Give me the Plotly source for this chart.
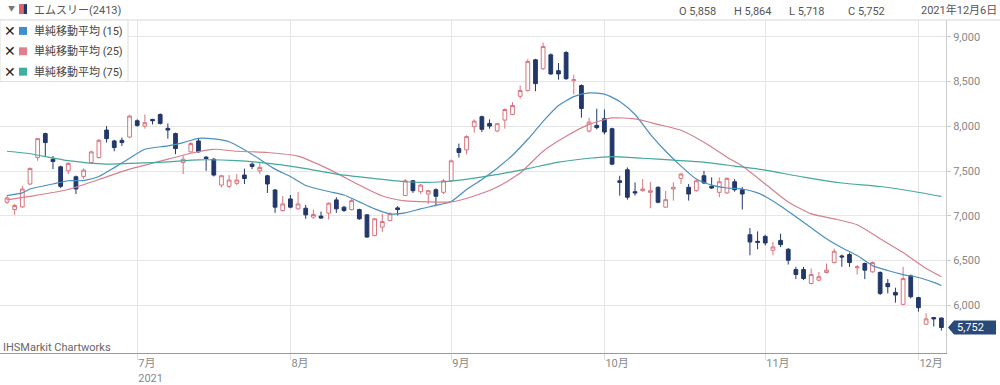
import plotly.graph_objects as go

# ---------------- data ----------------
months = {
    "06": [8, 9, 10, 11, 14, 15, 16, 17, 18, 21, 22, 23, 24, 25, 28, 29, 30],
    "07": [1, 2, 5, 6, 7, 8, 9, 12, 13, 14, 15, 16, 19, 20, 21, 26, 27, 28, 29, 30],
    "08": [2, 3, 4, 5, 6, 10, 11, 12, 13, 16, 17, 18, 19, 20, 23, 24, 25, 26, 27, 30, 31],
    "09": [1, 2, 3, 6, 7, 8, 9, 10, 13, 14, 15, 16, 17, 21, 22, 24, 27, 28, 29, 30],
    "10": [1, 4, 5, 6, 7, 8, 11, 12, 13, 14, 15, 18, 19, 20, 21, 22, 25, 26, 27, 28, 29],
    "11": [1, 2, 4, 5, 8, 9, 10, 11, 12, 15, 16, 17, 18, 19, 22, 24, 25, 26, 29, 30],
    "12": [1, 2, 3, 6],
}
dates = [f"2021-{m}-{d:02d}" for m, ds in months.items() for d in ds]

opens = [7152, 7070, 7100, 7356, 7652, 7919, 7633, 7548, 7503, 7437, 7441, 7597, 7652, 7959, 7837, 7844, 7881,
         8063, 8003, 8078, 8133, 7978, 7919, 7597, 7715, 7837, 7656, 7633, 7344, 7330, 7363, 7456, 7578, 7503, 7448, 7289, 7059,
         7189, 7078, 7085, 6985, 6997, 7030, 7178, 7097, 7070, 7070, 7011, 6781, 6874, 6948, 7089, 7226, 7392, 7270, 7244, 7292, 7263,
         7392, 7752, 7737, 7997, 8108, 8033, 7948, 8070, 8133, 8337, 8400, 8744, 8644, 8800, 8622, 8826, 8511, 8456, 7948, 8011,
         8086, 7974, 7392, 7515, 7270, 7281, 7263, 7319, 7097, 7300, 7419, 7319, 7281, 7448, 7330, 7263, 7256, 7381, 7292, 6789, 6715,
         6770, 6615, 6726, 6626, 6400, 6400, 6244, 6281, 6367, 6478, 6552, 6567, 6419, 6467, 6374, 6367, 6244, 6144, 6011, 6330,
         6086, 5789, 5863, 5858]
highs = [7226, 7133, 7333, 7540, 7870, 7930, 7670, 7560, 7600, 7450, 7530, 7730, 7860, 8003, 7850, 7875, 8130,
         8080, 8133, 8085, 8145, 8033, 7930, 7670, 7826, 7863, 7670, 7645, 7460, 7456, 7467, 7528, 7597, 7597, 7460, 7300, 7222,
         7233, 7267, 7122, 7070, 7048, 7150, 7208, 7111, 7189, 7080, 7020, 6975, 7022, 7041, 7108, 7411, 7400, 7356, 7292, 7308, 7411,
         7630, 7808, 7900, 8078, 8120, 8078, 8040, 8200, 8270, 8456, 8752, 8755, 8937, 8815, 8708, 8840, 8578, 8470, 8097, 8197,
         8189, 7985, 7448, 7541, 7374, 7411, 7381, 7330, 7281, 7374, 7478, 7356, 7405, 7503, 7430, 7430, 7430, 7411, 7322, 6863, 6826,
         6789, 6707, 6800, 6640, 6430, 6430, 6411, 6374, 6467, 6633, 6567, 6589, 6448, 6478, 6490, 6380, 6293, 6197, 6430, 6344,
         6095, 5911, 5870, 5864]
lows = [7133, 7011, 7089, 7344, 7615, 7670, 7522, 7311, 7467, 7244, 7411, 7585, 7640, 7819, 7722, 7782, 7870,
        7995, 7974, 8022, 8020, 7863, 7689, 7467, 7707, 7705, 7503, 7440, 7319, 7308, 7344, 7356, 7522, 7467, 7256, 7033, 7048,
        7085, 7070, 6967, 6967, 6967, 6959, 7033, 7044, 7059, 6955, 6755, 6770, 6819, 6937, 7004, 7222, 7256, 7244, 7133, 7108, 7244,
        7380, 7652, 7689, 7930, 7937, 7974, 7935, 7974, 8125, 8308, 8390, 8392, 8630, 8575, 8522, 8520, 8356, 8097, 7930, 7967,
        7911, 7565, 7226, 7181, 7226, 7270, 7085, 7140, 7090, 7170, 7356, 7170, 7270, 7356, 7300, 7208, 7245, 7270, 7070, 6559, 6626,
        6670, 6559, 6652, 6456, 6293, 6281, 6233, 6270, 6356, 6467, 6430, 6430, 6344, 6293, 6365, 6115, 6133, 6030, 6000, 6078,
        5930, 5780, 5763, 5718]
closes = [7200, 7115, 7300, 7530, 7863, 7819, 7608, 7330, 7586, 7300, 7511, 7715, 7844, 7863, 7763, 7819, 8115,
          8011, 8041, 8063, 8033, 7959, 7752, 7633, 7808, 7715, 7641, 7456, 7448, 7400, 7400, 7417, 7552, 7541, 7356, 7097, 7133,
          7097, 7133, 7011, 7015, 6975, 7141, 7078, 7059, 7170, 6967, 6763, 6967, 6937, 7022, 7070, 7392, 7281, 7344, 7281, 7219, 7392,
          7615, 7708, 7886, 8059, 7967, 8003, 8030, 8189, 8233, 8400, 8726, 8478, 8892, 8586, 8586, 8533, 8522, 8200, 8048, 7986,
          7937, 7578, 7374, 7208, 7256, 7300, 7281, 7152, 7181, 7319, 7467, 7244, 7392, 7367, 7311, 7381, 7419, 7292, 7244, 6708, 6704,
          6697, 6652, 6678, 6504, 6344, 6300, 6344, 6319, 6393, 6604, 6541, 6478, 6430, 6393, 6478, 6133, 6208, 6115, 6300, 6096,
          5974, 5848, 5848, 5752]

# moving averages (trading-day index -> value)
ma15_at = [0, 2, 3, 6, 8, 10, 12, 14, 16, 18, 21, 23, 25, 27, 29, 31, 33, 35, 37, 39, 42, 44, 46, 48, 50, 52, 54, 56,
           58, 60, 62, 64, 66, 68, 70, 72, 74, 76, 78, 80, 82, 84, 86, 88, 90, 92, 94, 96, 98, 99, 101, 103, 105,
           107, 109, 111, 113, 115, 117, 119, 121, 122]
ma15 = [7226, 7256, 7300, 7356, 7392, 7394, 7439, 7539, 7644, 7744, 7783, 7819, 7867, 7861, 7828, 7739, 7633, 7522,
        7439, 7339, 7272, 7233, 7156, 7078, 7022, 7033, 7078, 7117, 7161, 7294, 7406, 7533, 7678, 7856, 8056, 8233,
        8333, 8374, 8361, 8278, 8133, 7911, 7722, 7556, 7411, 7344, 7311, 7300, 7256, 7217, 7111, 6989, 6867, 6744,
        6644, 6556, 6444, 6389, 6344, 6311, 6256, 6222]
ma25_at = [0, 3, 8, 12, 16, 20, 24, 27, 30, 34, 38, 42, 46, 49, 52, 55, 58, 61, 64, 67, 70, 73, 76, 79, 82, 85, 88,
           91, 94, 96, 99, 102, 105, 108, 111, 114, 117, 120, 122]
ma25 = [7178, 7217, 7294, 7406, 7522, 7611, 7700, 7744, 7722, 7708, 7667, 7522, 7344, 7222, 7167, 7156, 7156, 7222,
        7322, 7478, 7722, 7889, 8022, 8094, 8083, 8022, 7956, 7822, 7656, 7556, 7356, 7156, 7022, 6967, 6900, 6744,
        6589, 6411, 6319]
ma75_at = [0, 3, 8, 13, 17, 21, 25, 30, 35, 39, 43, 48, 52, 57, 61, 65, 68, 72, 76, 79, 83, 87, 91, 95, 99, 104, 109,
           114, 118, 122]
ma75 = [7722, 7694, 7617, 7578, 7589, 7603, 7626, 7617, 7578, 7528, 7467, 7417, 7381, 7381, 7422, 7478, 7528, 7600,
        7644, 7663, 7644, 7622, 7600, 7556, 7511, 7433, 7367, 7328, 7278, 7217]

ma_names = ["単純移動平均 (15)", "単純移動平均 (25)", "単純移動平均 (75)"]
ma_colors = ["#4a8fbf", "#d5818d", "#46a89c"]
ma_swatch = ["#3f8fcf", "#e07f8e", "#3fb0a0"]

month_ticks = ["2021-07-01", "2021-08-02", "2021-09-01", "2021-10-01", "2021-11-01", "2021-12-01"]
month_labels = ["7月<br>2021", "8月", "9月", "10月", "11月", "12月"]
y_ticks = [6000, 6500, 7000, 7500, 8000, 8500, 9000]
y_range = [5467, 9189]

stock_name = "エムスリー(2413)"
source = "IHSMarkit Chartworks"

# ---------------- figure ----------------
UP = "#d9737d"
DOWN = "#22386a"
FONT = "Roboto, 'Noto Sans CJK JP', sans-serif"

fig = go.Figure()
fig.add_trace(go.Candlestick(
    x=dates, open=opens, high=highs, low=lows, close=closes,
    increasing=dict(line=dict(color=UP, width=1), fillcolor="white"),
    decreasing=dict(line=dict(color=DOWN, width=1), fillcolor=DOWN),
    whiskerwidth=0, hoverinfo="skip", name=stock_name,
))
for at, vals, name, col in [(ma15_at, ma15, ma_names[0], ma_colors[0]),
                            (ma25_at, ma25, ma_names[1], ma_colors[1]),
                            (ma75_at, ma75, ma_names[2], ma_colors[2])]:
    fig.add_trace(go.Scatter(x=[dates[i] for i in at], y=vals, mode="lines", name=name,
                             line=dict(color=col, width=1.2, shape="spline", smoothing=0.6),
                             hoverinfo="skip"))

W = 1000 - 54          # plot width in px
TOP, BOT = 20, 355     # plot top/bottom in px


def X(px):
    return px / W


def Y(py):
    return (BOT - py) / (BOT - TOP)


shapes = []
annotations = []

# top separator line
shapes.append(dict(type="line", xref="paper", yref="paper", x0=0, x1=X(1000), y0=Y(TOP), y1=Y(TOP),
                   line=dict(color="#d8d8d8", width=1)))

# header
annotations.append(dict(text="▼", x=X(11), y=Y(9), xref="paper", yref="paper", showarrow=False,
                        font=dict(size=7, color="#777"), xanchor="center", yanchor="middle"))
shapes.append(dict(type="rect", xref="paper", yref="paper", x0=X(19), x1=X(23.5), y0=Y(14), y1=Y(4),
                   fillcolor="#e0606e", line=dict(width=0)))
shapes.append(dict(type="rect", xref="paper", yref="paper", x0=X(23.5), x1=X(27), y0=Y(14), y1=Y(4),
                   fillcolor=DOWN, line=dict(width=0)))
annotations.append(dict(text=stock_name, x=X(32), y=Y(10), xref="paper", yref="paper", showarrow=False,
                        font=dict(size=11, color="#555"), xanchor="left", yanchor="middle"))

last_date = dates[-1]
y_, m_, d_ = last_date.split("-")
ohlc = [("O", opens[-1], 677), ("H", highs[-1], 732), ("L", lows[-1], 787), ("C", closes[-1], 846)]
for lab, v, xp in ohlc:
    annotations.append(dict(text=f"{lab} {v:,}", x=X(xp), y=Y(11), xref="paper", yref="paper", showarrow=False,
                            font=dict(size=11, color="#555"), xanchor="left", yanchor="middle"))
annotations.append(dict(text=f"{int(y_)}年{int(m_)}月{int(d_)}日", x=X(919), y=Y(10), xref="paper", yref="paper",
                        showarrow=False, font=dict(size=11, color="#555"), xanchor="left", yanchor="middle"))

# legend box
shapes.append(dict(type="rect", xref="paper", yref="paper", x0=X(0), x1=X(128), y0=Y(82), y1=Y(TOP),
                   fillcolor="white", line=dict(color="#dddddd", width=1), layer="above"))
for k, (name, sw) in enumerate(zip(ma_names, ma_swatch)):
    cy = 31 + 20.5 * k
    annotations.append(dict(text="✕", x=X(9.5), y=Y(cy), xref="paper", yref="paper", showarrow=False,
                            font=dict(size=14, color="#222", family="DejaVu Sans"), xanchor="center",
                            yanchor="middle"))
    shapes.append(dict(type="rect", xref="paper", yref="paper", x0=X(19), x1=X(27), y0=Y(cy + 4), y1=Y(cy - 4),
                       fillcolor=sw, line=dict(width=0), layer="above"))
    annotations.append(dict(text=name, x=X(32), y=Y(cy), xref="paper", yref="paper", showarrow=False,
                            font=dict(size=11, color="#444"), xanchor="left", yanchor="middle"))

# source
annotations.append(dict(text=source, x=X(1), y=Y(349), xref="paper", yref="paper", showarrow=False,
                        font=dict(size=11, color="#666"), xanchor="left", yanchor="middle"))

# last price tag
last = closes[-1]
yp = (last - y_range[0]) / (y_range[1] - y_range[0])
hh = 7 / (BOT - TOP)
x_tip, x_a, x_b = X(948), X(954), X(996)
shapes.append(dict(type="path", xref="paper", yref="paper",
                   path=f"M {x_tip},{yp} L {x_a},{yp + hh} L {x_b},{yp + hh} L {x_b},{yp - hh} L {x_a},{yp - hh} Z",
                   fillcolor="#294a78", line=dict(width=0)))
annotations.append(dict(text=f"{last:,}", x=X(955), y=last, xref="paper", yref="y", showarrow=False,
                        font=dict(size=11, color="white"), xanchor="left", yanchor="middle"))

fig.update_layout(
    width=1000, height=385,
    margin=dict(l=0, r=54, t=TOP, b=385 - BOT),
    paper_bgcolor="white", plot_bgcolor="white",
    showlegend=False,
    font=dict(family=FONT, size=11, color="#888"),
    shapes=shapes, annotations=annotations,
    xaxis=dict(type="category", categoryorder="array", categoryarray=dates,
               range=[-0.915, 122.6], tickvals=month_ticks, ticktext=month_labels,
               ticklabelposition="outside right",
               showgrid=True, gridcolor="#e6e6e6", gridwidth=1,
               ticks="outside", ticklen=6, tickcolor="#dddddd",
               showline=True, linecolor="#9a9a9a", linewidth=1,
               tickfont=dict(size=11, color="#888"),
               rangeslider=dict(visible=False), fixedrange=True),
    yaxis=dict(side="right", range=y_range, tickvals=y_ticks, tickformat=",",
               showgrid=True, gridcolor="#e6e6e6", zeroline=False,
               ticks="outside", ticklen=4, tickcolor="#cccccc",
               showline=True, linecolor="#cccccc",
               tickfont=dict(size=11, color="#888"), fixedrange=True),
)

fig.write_html("out.html", config={"displayModeBar": False},
               post_script="document.body.style.margin='0';document.body.style.overflow='hidden';")
